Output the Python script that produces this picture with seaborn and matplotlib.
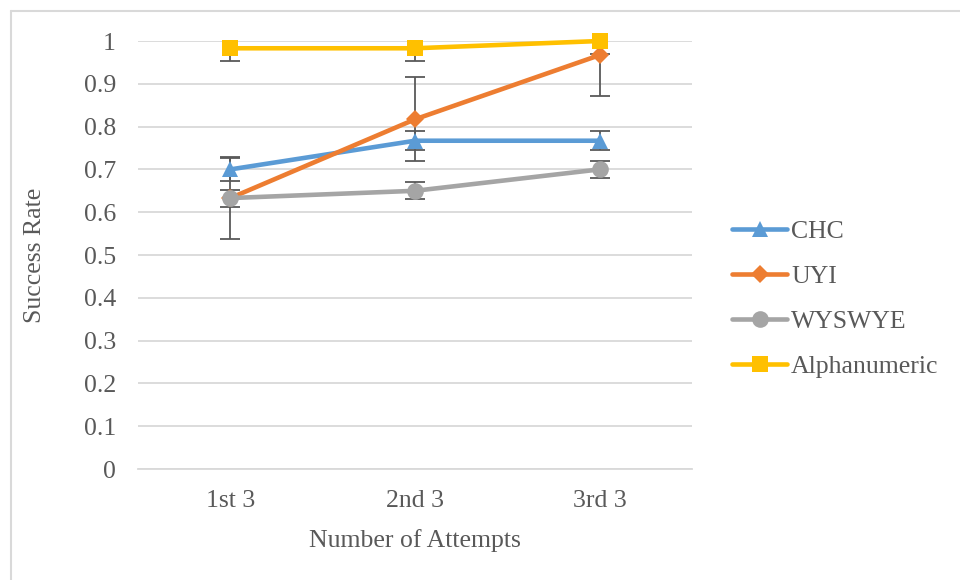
import matplotlib
matplotlib.use("Agg")
import matplotlib.pyplot as plt
import pandas as pd
import seaborn as sns

# Values
attempts = ["1st 3", "2nd 3", "3rd 3"]
series_names = ["CHC", "UYI", "WYSWYE", "Alphanumeric"]
chc = [0.700, 0.767, 0.767]
uyi = [0.633, 0.817, 0.967]
wyswye = [0.633, 0.650, 0.700]
alnum = [0.983, 0.983, 1.000]
chc_err = [0.026, 0.022, 0.022]
uyi_err = [0.095, 0.098, 0.095]
wyswye_err = [0.020, 0.020, 0.020]
alnum_err = [0.030, 0.030, 0.030]

colors = ["#5b9bd5", "#ed7d31", "#a5a5a5", "#ffc000"]
markers = ["^", "D", "o", "s"]
marker_sizes = [11, 9, 12, 11]


def main():
    sns.set_theme(style="white")
    plt.rcParams["font.family"] = ["Liberation Serif", "DejaVu Serif"]

    values = [chc, uyi, wyswye, alnum]
    errors = [chc_err, uyi_err, wyswye_err, alnum_err]

    rows = []
    for name, vals in zip(series_names, values):
        for i, v in enumerate(vals):
            rows.append({"attempt": attempts[i], "pos": i, "series": name, "rate": v})
    df = pd.DataFrame(rows)

    fig = plt.figure(figsize=(9.6, 5.8), dpi=100)
    # partial chart border (top and left only visible in the reference)
    fig.add_artist(plt.Line2D([10.5 / 960, 10.5 / 960], [0, 569 / 580],
                              color="#d9d9d9", linewidth=1.5))
    fig.add_artist(plt.Line2D([10.5 / 960, 1], [569 / 580, 569 / 580],
                              color="#d9d9d9", linewidth=1.5))

    ax = fig.add_axes([138 / 960, 111 / 580, 554 / 960, 428 / 580])

    # error bars behind the lines
    for vals, errs in zip(values, errors):
        ax.errorbar(range(len(attempts)), vals, yerr=errs, fmt="none",
                    ecolor="#595959", elinewidth=1.3, capsize=7, capthick=1.3,
                    zorder=2)

    n_before = len(ax.lines)
    sns.lineplot(data=df, x="pos", y="rate", hue="series", style="series",
                 palette=colors, markers=markers, dashes=False, linewidth=3.3,
                 markeredgewidth=0, ax=ax, legend=False, zorder=3)
    for line, ms in zip(ax.lines[n_before:], marker_sizes):
        line.set_markersize(ms)
        line.set_clip_on(False)

    ax.set_xlim(-0.5, 2.5)
    ax.set_ylim(0, 1)
    ax.set_xticks(range(len(attempts)))
    ax.set_xticklabels(attempts)
    ax.set_yticks([i / 10 for i in range(11)])
    ax.set_yticklabels(["0", "0.1", "0.2", "0.3", "0.4", "0.5", "0.6",
                        "0.7", "0.8", "0.9", "1"])
    ax.tick_params(axis="both", length=0, labelsize=18.5, colors="#595959")
    ax.tick_params(axis="y", pad=16)
    ax.tick_params(axis="x", pad=15)
    ax.yaxis.grid(True, color="#d9d9d9", linewidth=1.3)
    ax.set_axisbelow(True)
    for side in ["top", "right", "left"]:
        ax.spines[side].set_visible(False)
    ax.spines["bottom"].set_color("#d9d9d9")
    ax.spines["bottom"].set_linewidth(1.3)

    ax.set_xlabel("Number of Attempts", fontsize=18.5, color="#595959")
    ax.set_ylabel("Success Rate", fontsize=18.5, color="#595959")
    ax.xaxis.set_label_coords(0.5, -(541 - 469) / 428, transform=ax.transAxes)
    ax.xaxis.label.set_va("center")
    ax.yaxis.set_label_coords(-(138 - 35) / 554, 0.5, transform=ax.transAxes)
    ax.yaxis.label.set_va("center")

    handles = [plt.Line2D([], [], color=c, marker=m, markersize=ms,
                          markeredgewidth=0, linewidth=3.3)
               for c, m, ms in zip(colors, markers, marker_sizes)]
    fig.legend(handles, series_names, loc="center left",
               bbox_to_anchor=(732 / 960, (580 - 299) / 580), frameon=False,
               fontsize=18.5, handlelength=2.15, handletextpad=0.15,
               labelspacing=0.85, borderpad=0, borderaxespad=0,
               labelcolor="#595959")

    fig.savefig("out.png", dpi=100)


if __name__ == "__main__":
    main()
